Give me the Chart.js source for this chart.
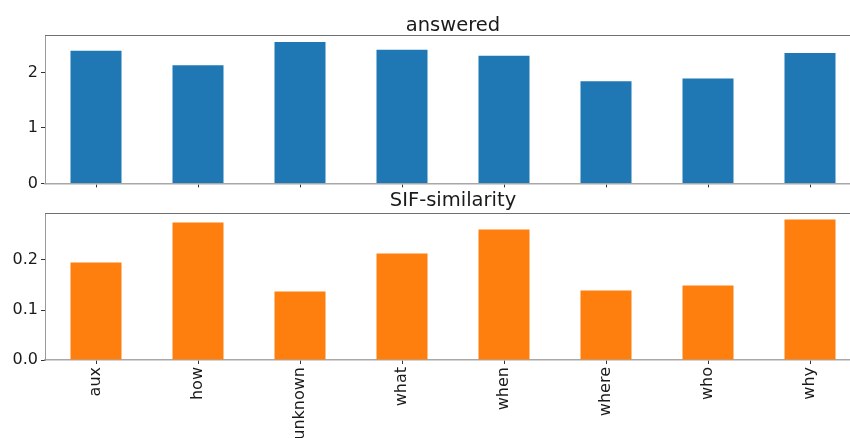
<!DOCTYPE html>
<html>
<head>
<meta charset="utf-8">
<script src="https://cdn.jsdelivr.net/npm/chart.js@4/dist/chart.umd.min.js"></script>
<style>
  html, body { margin:0; padding:0; background:#fff; overflow:hidden; width:850px; height:438px; }
  canvas { position:absolute; left:0; }
  #top { top:0; }
  #bottom { top:183px; }
</style>
</head>
<body>
<canvas id="top" width="870" height="196"></canvas>
<canvas id="bottom" width="870" height="255"></canvas>
<script>
// question types and per-type means
const categories = ['aux','how','unknown','what','when','where','who','why'];
const answered = [2.39, 2.13, 2.55, 2.41, 2.30, 1.84, 1.89, 2.35];
const sifSimilarity = [0.195, 0.275, 0.137, 0.213, 0.261, 0.139, 0.149, 0.281];
const answeredTicks = [0, 1, 2];
const sifTicks = [0.0, 0.1, 0.2];

const FONT = 'DejaVu Sans';
const TXT = '#1a1a1a';

// matplotlib-like frame: top spine + title centred on the axes
const frame = {
  id: 'frame',
  afterDraw(chart, args, opts) {
    const a = chart.chartArea, ctx = chart.ctx;
    ctx.save();
    ctx.strokeStyle = '#707070';
    ctx.lineWidth = 1;
    ctx.beginPath();
    ctx.moveTo(a.left, a.top + 0.5);
    ctx.lineTo(a.right, a.top + 0.5);
    ctx.stroke();
    ctx.fillStyle = TXT;
    ctx.font = '19.5px "' + FONT + '"';
    ctx.textAlign = 'center';
    ctx.textBaseline = 'alphabetic';
    ctx.fillText(opts.text, (a.left + a.right) / 2, a.top - opts.gap);
    ctx.restore();
  }
};

function makeChart(id, title, values, color, yMax, ticks, showLabels, xHeight, topPad, gap) {
  return new Chart(document.getElementById(id).getContext('2d'), {
    type: 'bar',
    data: { labels: categories, datasets: [{ label: title, data: values, backgroundColor: color,
      categoryPercentage: 1, barPercentage: 0.5 }] },
    options: {
      responsive: false, animation: false, devicePixelRatio: 1,
      layout: { padding: { left: 0, right: 9, top: topPad, bottom: 0 } },
      plugins: {
        legend: { display: false }, tooltip: { enabled: false }, title: { display: false },
        frame: { text: title, gap: gap }
      },
      scales: {
        x: {
          grid: { drawOnChartArea: false, offset: false, tickLength: 4, color: '#333' },
          border: { color: '#a8a8a8', width: 1.5 },
          ticks: { display: showLabels, minRotation: 90, maxRotation: 90, padding: 3, color: TXT, font: { family: FONT, size: 16 } },
          afterFit(s) { s.height = xHeight; }
        },
        y: {
          min: 0, max: yMax,
          grid: { drawOnChartArea: false, tickLength: 4, color: '#333' },
          border: { color: '#999', width: 1 },
          afterBuildTicks(s) { s.ticks = ticks.map(v => ({ value: v })); },
          ticks: { padding: 3, color: TXT, font: { family: FONT, size: 16 },
            callback: v => (yMax < 1 ? v.toFixed(1) : String(v)) },
          afterFit(s) { s.width = 45; }
        }
      }
    },
    plugins: [frame]
  });
}

makeChart('top', 'answered', answered, '#1f77b4', 2.676, answeredTicks, false, 1, 35, 4);
makeChart('bottom', 'SIF-similarity', sifSimilarity, '#ff7f0e', 0.294, sifTicks, true, 78, 30, 7);
</script>
</body>
</html>
